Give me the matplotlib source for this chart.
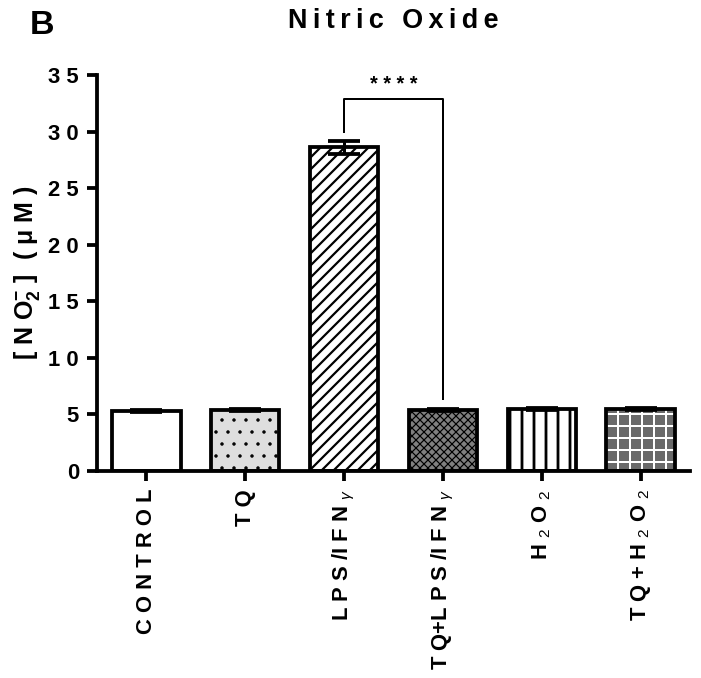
import numpy as np
import matplotlib
matplotlib.use("Agg")
from matplotlib import pyplot as plt

plt.rcParams['font.family'] = ['Liberation Sans', 'DejaVu Sans']
plt.rcParams['mathtext.fontset'] = 'custom'
plt.rcParams['mathtext.rm'] = 'Liberation Sans'
plt.rcParams['mathtext.it'] = 'Liberation Sans:italic'
plt.rcParams['mathtext.bf'] = 'Liberation Sans:bold'

# data
groups = ["C O N T R O L", "T Q", "L P S /I F N $_{\\gamma}$", "T Q+L P S /I F N $_{\\gamma}$",
          "H $_{2}$ O $_{2}$", "T Q + H $_{2}$ O $_{2}$"]
means = [5.3, 5.4, 28.6, 5.4, 5.5, 5.5]
sems = [0.08, 0.08, 0.55, 0.08, 0.1, 0.1]
yticks = [0, 5, 10, 15, 20, 25, 30, 35]
ytick_labels = ["0", "5", "1 0", "1 5", "2 0", "2 5", "3 0", "3 5"]

# bar looks
faces = ["white", "#dedede", "white", "#808080", "white", "#6a6a6a"]
hatches = [None, ".", "//", "xxx", "|", "+"]
hatch_cols = ["black", "black", "black", "black", "black", "white"]
hatch_lws = [1.0, 1.0, 2.2, 1.2, 2.8, 2.0]

DPI = 72
fig = plt.figure(figsize=(701 / DPI, 678 / DPI), dpi=DPI)
ax = fig.add_axes([97 / 701, 1 - 471 / 678, (690 - 97) / 701, (471 - 75) / 678])

x = np.arange(len(groups))
w = 0.69
for i in range(len(groups)):
    plt.rcParams['hatch.linewidth'] = hatch_lws[i]
    b = ax.bar(x[i], means[i], w, color=faces[i], hatch=hatches[i],
               edgecolor=hatch_cols[i], linewidth=0, zorder=2)
    for p in b:
        if hasattr(p, "set_hatch_linewidth"):
            p.set_hatch_linewidth(hatch_lws[i])
ax.bar(x, means, w, fill=False, edgecolor="black", linewidth=3.8, zorder=3)
ax.errorbar(x, means, yerr=sems, fmt="none", ecolor="black", elinewidth=3,
            capsize=16, capthick=3.8, zorder=4)

# significance bracket
ax.plot([2, 2, 3, 3], [30.0, 32.9, 32.9, 6.4], color="black", lw=2, zorder=5)
ax.text(2.5, 33.3, "* * * *", ha="center", va="bottom", fontsize=20, fontweight="bold")

ax.set_xlim(-0.5, 5.5)
ax.set_ylim(0, 35)
ax.set_yticks(yticks)
ax.set_yticklabels(ytick_labels)
ax.set_xticks(x)
ax.set_xticklabels(groups, rotation=90, va="top", ha="center")
for lab in ax.get_xticklabels() + ax.get_yticklabels():
    lab.set_fontsize(22)
    lab.set_fontweight("bold")

for s in ["top", "right"]:
    ax.spines[s].set_visible(False)
for s in ["left", "bottom"]:
    ax.spines[s].set_linewidth(3.8)
ax.tick_params(axis="both", length=10, width=3.8, pad=8)

ax.set_ylabel("[ N O$_{\\mathbf{2}}^{\\mathbf{-}}$ ]  ( μ M )", fontsize=25, fontweight="bold", labelpad=6)
ax.set_title("N\u2009i\u2009t\u2009r\u2009i\u2009c\u2009 \u2009O\u2009x\u2009i\u2009d\u2009e",
             fontsize=27, fontweight="bold", pad=47)
fig.text(30 / 701, 1 - 10 / 678, "B", fontsize=34, fontweight="bold", ha="left", va="top")

fig.savefig("out.png", dpi=DPI)
